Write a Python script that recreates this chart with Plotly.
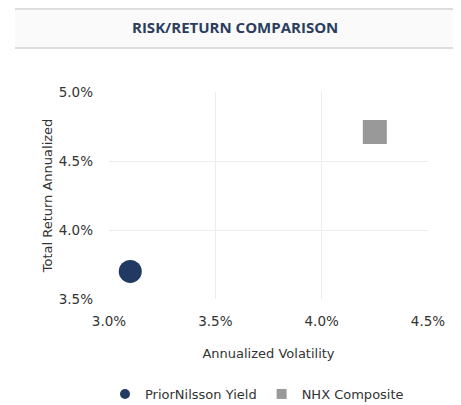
import plotly.graph_objects as go

series_names = ["PriorNilsson Yield", "NHX Composite"]
volatility = [3.10, 4.25]
returns = [3.70, 4.71]
colors = ["#213a63", "#999999"]
symbols = ["circle", "square"]
marker_sizes = [23, 24]

x_ticks = [3.0, 3.5, 4.0, 4.5]
x_tick_labels = ["3.0%", "3.5%", "4.0%", "4.5%"]
y_ticks = [3.5, 4.0, 4.5, 5.0]
y_tick_labels = ["3.5%", "4.0%", "4.5%", "5.0%"]

# page has an 8px body margin; work in figure pixels = page pixels - OFF
OFF = 8
W, H = 461 - OFF, 405 - OFF
L, T = 109 - OFF, 92 - OFF
R = W - (428 - OFF)
B = H - (299 - OFF)
pw, ph = W - L - R, H - T - B

def px_x(p):
    return (p - OFF - L) / pw

def px_y(p):
    return (H - B - (p - OFF)) / ph

fig = go.Figure()
for name, xv, yv, c, s, ms in zip(series_names, volatility, returns, colors, symbols, marker_sizes):
    fig.add_trace(go.Scatter(
        x=[xv], y=[yv], mode="markers", name=name, legendgroup=name, showlegend=False,
        marker=dict(color=c, symbol=s, size=ms, line=dict(width=0)),
    ))
# legend entries with smaller symbols
for name, c, s in zip(series_names, colors, symbols):
    fig.add_trace(go.Scatter(
        x=[None], y=[None], mode="markers", name=name, legendgroup=name, showlegend=True,
        marker=dict(color=c, symbol=s, size=10, line=dict(width=0)),
    ))

font_family = "DejaVu Sans"

fig.update_layout(
    width=W, height=H,
    margin=dict(l=L, r=R, t=T, b=B, pad=0, autoexpand=False),
    paper_bgcolor="white", plot_bgcolor="white",
    font=dict(family=font_family, size=13, color="#333333"),
    showlegend=True,
    legend=dict(orientation="h", x=px_x(257), xanchor="center", y=px_y(394), yanchor="middle",
                font=dict(family=font_family, size=13, color="#333333"),
                itemsizing="trace", tracegroupgap=0),
    xaxis=dict(range=[3.0, 4.5], tickvals=x_ticks, ticktext=x_tick_labels,
               showgrid=True, gridcolor="#ececec", gridwidth=1, zeroline=False,
               showline=False, ticks="", tickfont=dict(family=font_family, size=13.5),
               ticklabelstandoff=12, automargin=False,
               title=dict(text="Annualized Volatility", font=dict(family=font_family, size=13), standoff=21)),
    yaxis=dict(range=[3.5, 5.0], tickvals=y_ticks, ticktext=y_tick_labels,
               showgrid=True, gridcolor="#ececec", gridwidth=1, zeroline=False,
               showline=False, ticks="", tickfont=dict(family=font_family, size=13.5),
               ticklabelstandoff=15, automargin=False,
               title=dict(text="Total Return Annualized", font=dict(family=font_family, size=13), standoff=3)),
)

# header band
fig.add_shape(type="rect", xref="paper", yref="paper",
              x0=px_x(15), x1=px_x(456), y0=px_y(48), y1=px_y(9),
              fillcolor="#fafafa", line=dict(width=0), layer="below")
fig.add_shape(type="line", xref="paper", yref="paper",
              x0=px_x(15), x1=px_x(456), y0=px_y(9), y1=px_y(9),
              line=dict(color="#dddddd", width=2))
fig.add_shape(type="line", xref="paper", yref="paper",
              x0=px_x(15), x1=px_x(456), y0=px_y(48), y1=px_y(48),
              line=dict(color="#dddddd", width=2))
fig.add_annotation(text="<b>RISK/RETURN COMPARISON</b>", xref="paper", yref="paper",
                   x=px_x(235), y=px_y(27.5), xanchor="center", yanchor="middle",
                   showarrow=False,
                   font=dict(family="Open Sans", size=15, color="#2b3d5f"))

fig.write_html("out.html")
